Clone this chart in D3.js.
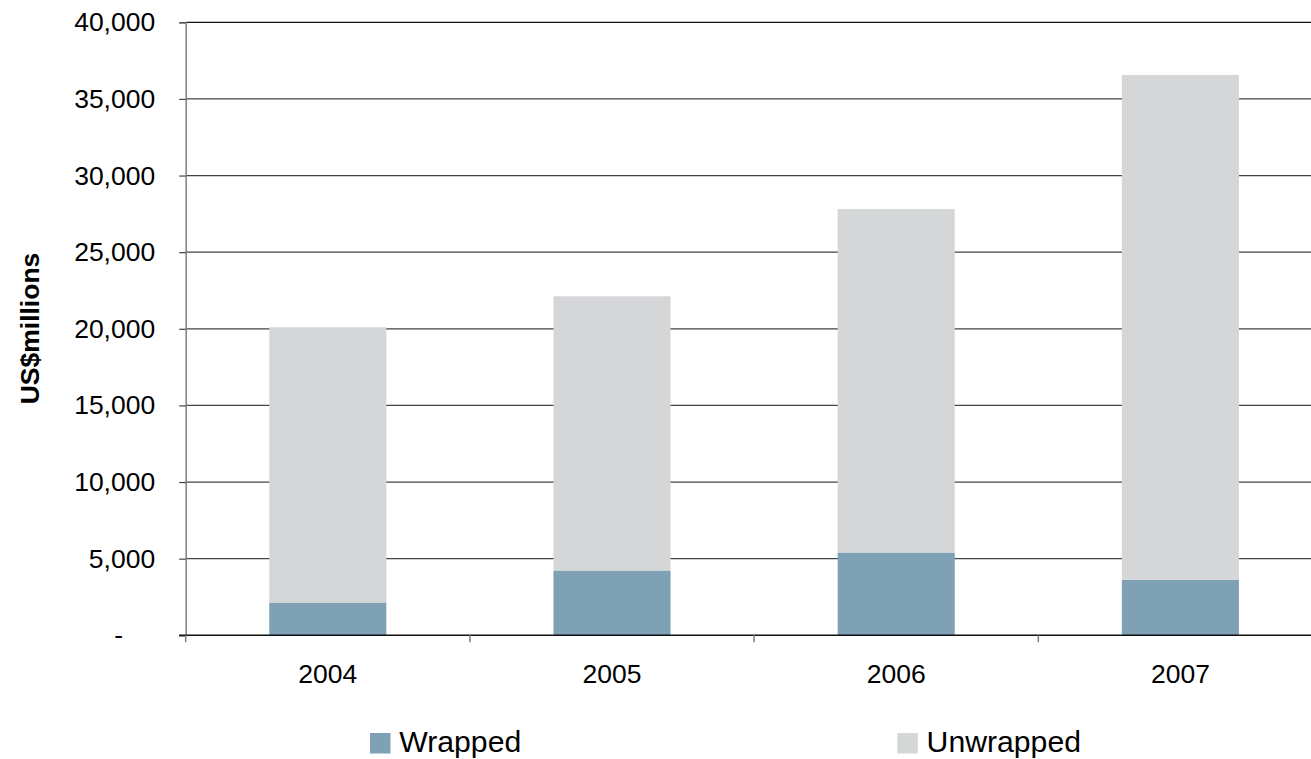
<!DOCTYPE html>
<html>
<head>
<meta charset="utf-8">
<script src="https://cdn.jsdelivr.net/npm/d3@7"></script>
<style>
  html, body { margin: 0; padding: 0; background: #fff; overflow: hidden; }
  svg { display: block; font-family: "Liberation Sans", Arial, sans-serif; }
</style>
</head>
<body>
<svg id="chart" width="1311" height="759"></svg>
<script>
// Market size by year, split into wrapped and unwrapped (US$ millions)
const years = ["2004", "2005", "2006", "2007"];
const wrapped = [2140, 4230, 5400, 3620];
const unwrappedTotal = [20100, 22120, 27820, 36560];
const seriesNames = ["Wrapped", "Unwrapped"];
const seriesColors = ["#7fa1b5", "#d5d6d8"];
const yTicks = [0, 5000, 10000, 15000, 20000, 25000, 30000, 35000, 40000];

const svg = d3.select("#chart");
const plotLeft = 185.7, plotRight = 1322.5, plotTop = 22.3, plotBottom = 635.3;

const x = d3.scaleBand().domain(years).range([plotLeft, plotRight]).padding(0);
const y = d3.scaleLinear().domain([0, 40000]).range([plotBottom, plotTop]);
const barW = x.bandwidth() * 0.412;

// horizontal gridlines
svg.append("g").selectAll("line").data(yTicks.filter(d => d > 0)).join("line")
  .attr("x1", plotLeft).attr("x2", 1311)
  .attr("y1", d => y(d)).attr("y2", d => y(d))
  .attr("stroke", d => d === 40000 ? "#111" : "#444")
  .attr("stroke-width", 1.2);

// stacked bars: wrapped at the base, unwrapped above it
const rows = years.map((yr, i) => ({ yr, wrapped: wrapped[i], unwrapped: unwrappedTotal[i] - wrapped[i] }));
const stack = d3.stack().keys(["wrapped", "unwrapped"])(rows);
svg.append("g").selectAll("g").data(stack).join("g")
  .attr("fill", (d, i) => seriesColors[i])
  .selectAll("rect").data(d => d).join("rect")
  .attr("x", d => x(d.data.yr) + (x.bandwidth() - barW) / 2)
  .attr("width", barW)
  .attr("y", d => y(d[1]))
  .attr("height", d => y(d[0]) - y(d[1]));

// y axis (accounting style: zero shown as a dash set in from the right)
const yAxis = d3.axisLeft(y).tickValues(yTicks).tickSize(6.5).tickPadding(24)
  .tickFormat(d => d === 0 ? "-" : d3.format(",")(d));
const gy = svg.append("g").attr("transform", `translate(${plotLeft},0)`).call(yAxis);
gy.select(".domain").attr("stroke", "#808080").attr("stroke-width", 1.5);
gy.selectAll(".tick line").attr("stroke", "#444").attr("stroke-width", 1.2);
gy.selectAll(".tick text").attr("fill", "#000").attr("font-size", 26.5)
  .attr("font-family", "'Liberation Sans', Arial, sans-serif");
gy.selectAll(".tick text").filter(d => d === 0).attr("dx", -32);

// x axis baseline and category separators
svg.append("line").attr("x1", plotLeft - 6.5).attr("x2", 1311)
  .attr("y1", plotBottom).attr("y2", plotBottom).attr("stroke", "#111").attr("stroke-width", 1.5);
svg.append("g").selectAll("line").data(years).join("line")
  .attr("x1", d => x(d)).attr("x2", d => x(d))
  .attr("y1", plotBottom).attr("y2", plotBottom + 7)
  .attr("stroke", "#808080").attr("stroke-width", 1.5);
svg.append("g").selectAll("text").data(years).join("text")
  .attr("x", d => x(d) + x.bandwidth() / 2)
  .attr("y", 683.3)
  .attr("text-anchor", "middle")
  .attr("font-size", 26.5)
  .text(d => d);

// y axis title
svg.append("text")
  .attr("transform", "translate(38.5,328.5) rotate(-90)")
  .attr("text-anchor", "middle")
  .attr("font-size", 26.5)
  .attr("font-weight", "bold")
  .text("US$millions");

// legend
const legendX = [370, 897.3];
const lg = svg.append("g").selectAll("g").data(seriesNames).join("g")
  .attr("transform", (d, i) => `translate(${legendX[i]},733)`);
lg.append("rect").attr("width", 20.5).attr("height", 20.5)
  .attr("fill", (d, i) => seriesColors[i]);
lg.append("text").attr("x", 29.3).attr("y", 19.3)
  .attr("font-size", 30.2).text(d => d);
</script>
</body>
</html>
